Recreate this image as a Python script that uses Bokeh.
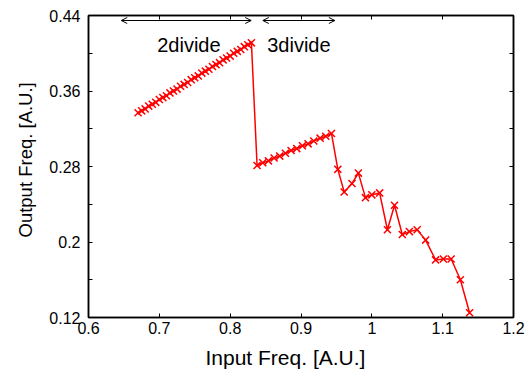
import math
from bokeh.plotting import figure
from bokeh.models import (FixedTicker, LinearAxis, Range1d, Arrow, OpenHead, Label, Title,
                          CustomJSTickFormatter)
from bokeh.embed import file_html
from bokeh.resources import INLINE

# ---- data ----
div2_x = [0.670, 0.675, 0.680, 0.685, 0.690, 0.695, 0.700, 0.705, 0.710, 0.715, 0.720,
          0.725, 0.730, 0.735, 0.740, 0.745, 0.750, 0.755, 0.760, 0.765, 0.770, 0.775,
          0.780, 0.785, 0.790, 0.795, 0.800, 0.805, 0.810, 0.815, 0.820, 0.825, 0.830]
div2_y = [0.337, 0.339, 0.341, 0.344, 0.346, 0.348, 0.351, 0.353, 0.355, 0.358, 0.360,
          0.362, 0.365, 0.367, 0.369, 0.372, 0.374, 0.376, 0.379, 0.381, 0.383, 0.386,
          0.388, 0.390, 0.393, 0.395, 0.397, 0.400, 0.402, 0.404, 0.407, 0.409, 0.411]

div3_x = [0.838, 0.846, 0.854, 0.862, 0.870, 0.878, 0.886, 0.894, 0.902, 0.910, 0.918,
          0.927, 0.935, 0.943]
div3_y = [0.281, 0.284, 0.286, 0.289, 0.291, 0.294, 0.297, 0.299, 0.302, 0.304, 0.307,
          0.310, 0.312, 0.315]

tail_x = [0.952, 0.961, 0.972, 0.981, 0.991, 1.000, 1.011, 1.022, 1.032, 1.043, 1.053,
          1.064, 1.076, 1.090, 1.101, 1.112, 1.125, 1.138]
tail_y = [0.277, 0.253, 0.262, 0.273, 0.247, 0.250, 0.252, 0.213, 0.239, 0.208, 0.211,
          0.213, 0.202, 0.181, 0.182, 0.182, 0.160, 0.125]

x_vals = div2_x + div3_x + tail_x
y_vals = div2_y + div3_y + tail_y

x_ticks = [0.6, 0.7, 0.8, 0.9, 1.0, 1.1, 1.2]
y_ticks = [0.12, 0.2, 0.28, 0.36, 0.44]
y_tick_labels = ["0.12", "0.2", "0.28", "0.36", "0.44"]
y_minor = [0.16, 0.24, 0.32, 0.40]

FONT = "Liberation Sans"

p = figure(width=530, height=376, output_backend="svg", toolbar_location=None,
           x_range=Range1d(0.6, 1.2), y_range=Range1d(0.12, 0.44),
           min_border_left=88, min_border_right=17, min_border_top=15, min_border_bottom=58)
p.xgrid.visible = False
p.ygrid.visible = False
p.outline_line_color = "black"
p.outline_line_width = 1.5
p.background_fill_color = "white"
p.border_fill_color = "white"

xt = FixedTicker(ticks=x_ticks, minor_ticks=[])
yt = FixedTicker(ticks=y_ticks, minor_ticks=y_minor)

def style(ax, labels=True):
    ax.axis_line_color = "black"
    ax.axis_line_width = 1.5
    ax.major_tick_in = 4
    ax.major_tick_out = 0
    ax.minor_tick_in = 4
    ax.minor_tick_out = 0
    ax.major_tick_line_color = "black"
    ax.minor_tick_line_color = "black"
    ax.major_label_text_font = FONT
    ax.major_label_text_font_size = "16px"
    ax.major_label_text_color = "black"
    if not labels:
        ax.formatter = CustomJSTickFormatter(code="return ''")
        ax.major_label_standoff = 0

p.xaxis.ticker = xt
p.yaxis.ticker = yt
style(p.xaxis[0])
style(p.yaxis[0])
p.xaxis.major_label_standoff = 4
p.yaxis.major_label_standoff = 8
p.yaxis.major_label_overrides = {t: s for t, s in zip(y_ticks, y_tick_labels)}

top = LinearAxis(ticker=xt)
style(top, labels=False)
p.add_layout(top, "above")
right = LinearAxis(ticker=yt)
style(right, labels=False)
p.add_layout(right, "right")

# data
p.line(x_vals, y_vals, line_color="red", line_width=1.5)
p.scatter(x_vals, y_vals, marker="x", size=10, line_color="red", line_width=1.5)

# annotations
arrow_y = 0.4347
for xs, xe in [(0.6462, 0.8297), (0.8461, 0.9478)]:
    p.add_layout(Arrow(x_start=xs, y_start=arrow_y, x_end=xe, y_end=arrow_y,
                       line_color="black", line_width=1,
                       start=OpenHead(size=6, line_width=1, line_color="black"),
                       end=OpenHead(size=6, line_width=1, line_color="black")))

p.add_layout(Label(x=0.697, y=0.4085, text="2divide", text_font=FONT, text_color="black",
                   text_font_size="20px", text_baseline="alphabetic", text_align="left"))
p.add_layout(Label(x=0.8523, y=0.4085, text="3divide", text_font=FONT, text_color="black",
                   text_font_size="20px", text_baseline="alphabetic", text_align="left"))

# axis titles
p.add_layout(Title(text="Input Freq. [A.U.]", align="left", offset=117, standoff=15,
                   text_font=FONT, text_font_size="21px", text_font_style="normal",
                   text_color="black"), "below")
p.add_layout(Title(text="Output Freq. [A.U.]", align="left", offset=80, standoff=21,
                   text_font=FONT, text_font_size="18.5px", text_font_style="normal",
                   text_color="black"), "left")

open("out.html", "w").write(file_html(p, INLINE))
